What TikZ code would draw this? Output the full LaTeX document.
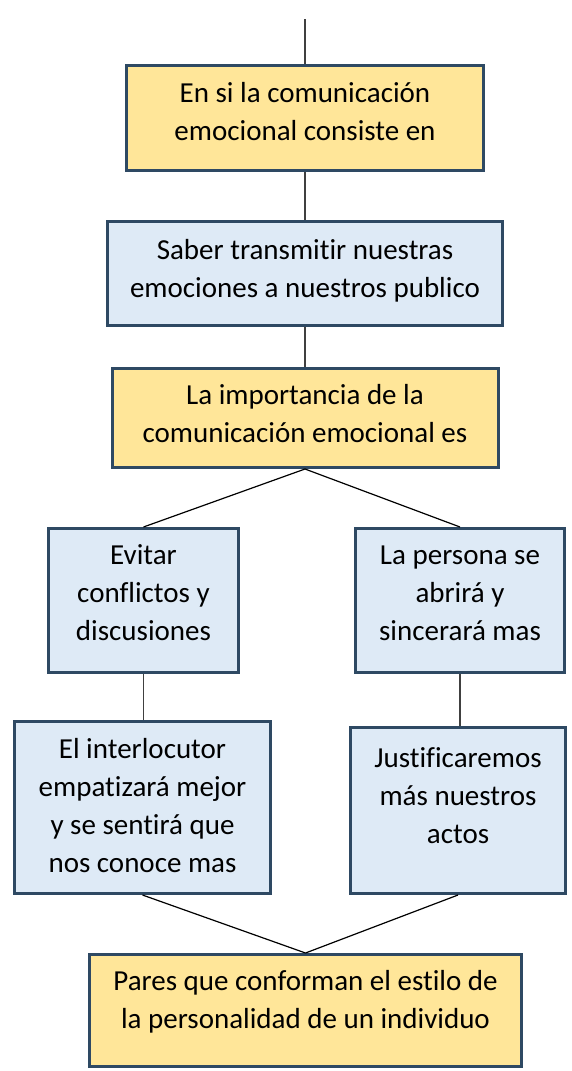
\documentclass[tikz,border=0pt]{standalone}
\usepackage{fontspec}
\setmainfont[Ligatures=NoCommon]{Carlito}
\definecolor{boxyellow}{HTML}{FFE699}
\definecolor{boxblue}{HTML}{DEEAF6}
\definecolor{boxedge}{HTML}{2E4963}
\definecolor{vline}{HTML}{404040}
\tikzset{
  boxbase/.style={rectangle, draw=boxedge, line width=3pt, inner sep=0pt},
  ybox/.style={boxbase, fill=boxyellow},
  bbox/.style={boxbase, fill=boxblue},
  txt/.style={anchor=north, align=center, inner sep=0pt, font=\fontsize{29}{38}\selectfont},
  vconn/.style={draw=vline, line width=1.5pt},
  dconn/.style={draw=black, line width=1.2pt}
}
\begin{document}
\begin{tikzpicture}[x=1pt,y=-1pt]
\useasboundingbox[fill=white] (0,0) rectangle (571,1071);
% boxes
\node[ybox, minimum width=357pt, minimum height=105pt] (b1) at (305,118) {};
\node[bbox, minimum width=395pt, minimum height=104pt] (b2) at (305,273.5) {};
\node[ybox, minimum width=386pt, minimum height=99pt] (b3) at (305,418) {};
\node[bbox, minimum width=190pt, minimum height=144pt] (b4) at (143.5,600.5) {};
\node[bbox, minimum width=209pt, minimum height=144pt] (b5) at (460,600.5) {};
\node[bbox, minimum width=256pt, minimum height=172pt] (b6) at (142.5,807.5) {};
\node[bbox, minimum width=215pt, minimum height=166pt] (b7) at (458,810.5) {};
\node[ybox, minimum width=432pt, minimum height=112pt] (b8) at (305.5,1010.5) {};
% texts
\node[txt] (t1) at ([yshift=-11.4pt]b1.north) {\strut En si la comunicación\\emocional consiste en};
\node[txt] (t2) at ([yshift=-12.4pt]b2.north) {\strut Saber transmitir nuestras\\emociones a nuestros publico};
\node[txt] (t3) at ([yshift=-10.4pt]b3.north) {\strut La importancia de la\\comunicación emocional es};
\node[txt] (t4) at ([yshift=-10.4pt]b4.north) {\strut Evitar\\conflictos y\\discusiones};
\node[txt] (t5) at ([yshift=-10.4pt]b5.north) {\strut La persona se\\abrirá y\\sincerará mas};
\node[txt] (t6) at ([yshift=-11.4pt]b6.north) {\strut El interlocutor\\empatizará mejor\\y se sentirá que\\nos conoce mas};
\node[txt] (t7) at ([yshift=-14.4pt]b7.north) {\strut Justificaremos\\más nuestros\\actos};
\node[txt] (t8) at ([yshift=-10.4pt]b8.north) {\strut Pares que conforman el estilo de\\la personalidad de un individuo};
% connectors
\coordinate (top) at (305,19);
\draw[vconn] (top) -- (b1.north);
\draw[vconn] (b1.south) -- (b2.north);
\draw[vconn] (b2.south) -- (b3.north);
\draw[dconn] (b3.south) -- (b4.north);
\draw[dconn] (b3.south) -- (b5.north);
\draw[vconn] (b4.south) -- (b4.south |- b6.north);
\draw[vconn] (b5.south) -- (b5.south |- b7.north);
\draw[dconn] (b6.south) -- (b8.north);
\draw[dconn] (b7.south) -- (b8.north);
\end{tikzpicture}
\end{document}
